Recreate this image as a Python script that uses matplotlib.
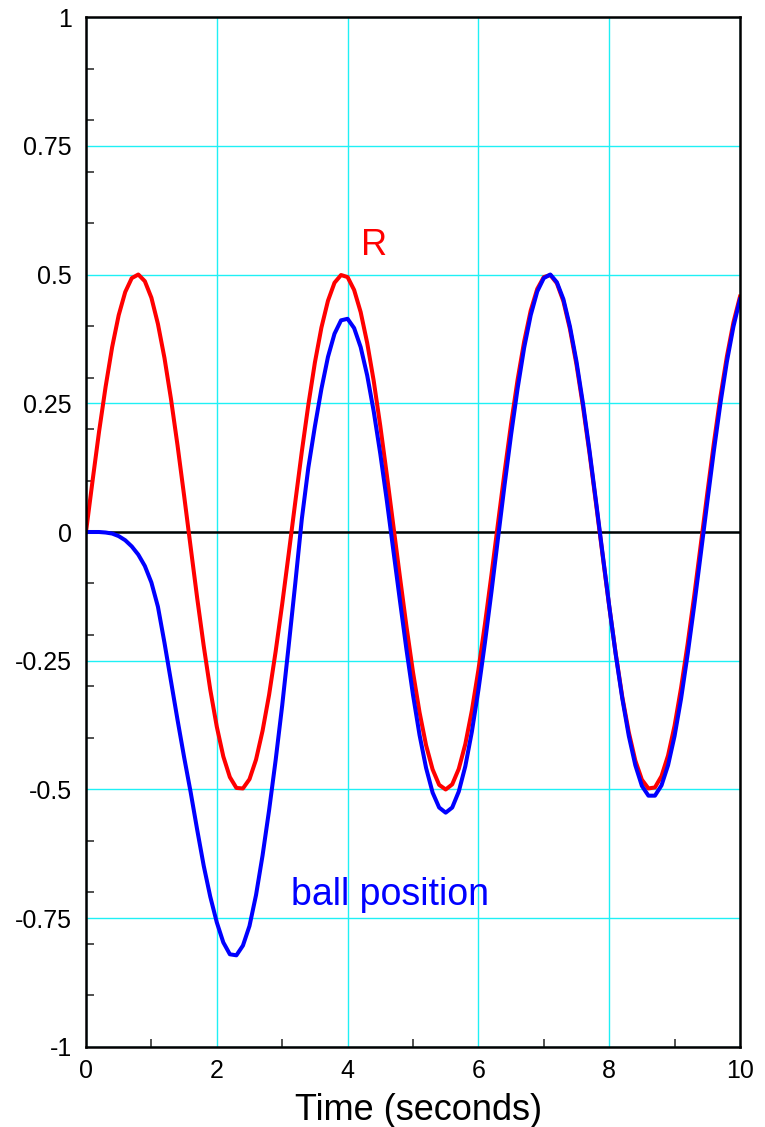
import numpy as np
import matplotlib
matplotlib.use('Agg')
import matplotlib.pyplot as plt

plt.rcParams['font.family'] = ['Liberation Sans', 'DejaVu Sans']

# time axis, 0.1 s steps
t = np.arange(101) / 10.0

# reference R
R = [0.000, 0.099, 0.195, 0.282, 0.359, 0.421, 0.466, 0.493, 0.500, 0.487,
     0.455, 0.404, 0.338, 0.258, 0.168, 0.071, -0.029, -0.128, -0.221, -0.306,
     -0.378, -0.436, -0.476, -0.497, -0.498, -0.480, -0.442, -0.386, -0.316, -0.232,
     -0.140, -0.042, 0.058, 0.156, 0.247, 0.329, 0.397, 0.449, 0.484, 0.499,
     0.495, 0.470, 0.427, 0.367, 0.293, 0.206, 0.111, 0.012, -0.087, -0.183,
     -0.272, -0.350, -0.414, -0.461, -0.491, -0.500, -0.490, -0.460, -0.412, -0.347,
     -0.268, -0.179, -0.083, 0.017, 0.116, 0.210, 0.296, 0.370, 0.430, 0.472,
     0.495, 0.499, 0.483, 0.448, 0.394, 0.325, 0.243, 0.152, 0.054, -0.046,
     -0.144, -0.236, -0.320, -0.389, -0.444, -0.481, -0.498, -0.496, -0.474, -0.434,
     -0.376, -0.302, -0.217, -0.124, -0.025, 0.075, 0.172, 0.262, 0.341, 0.407,
     0.457]

# ball position (blue curve)
ball = [0.000, 0.000, 0.000, -0.001, -0.003, -0.008, -0.016, -0.028, -0.044, -0.066,
        -0.098, -0.145, -0.215, -0.290, -0.365, -0.437, -0.505, -0.578, -0.648, -0.708,
        -0.758, -0.797, -0.820, -0.822, -0.803, -0.765, -0.705, -0.628, -0.540, -0.443,
        -0.337, -0.220, -0.100, 0.025, 0.125, 0.205, 0.278, 0.340, 0.385, 0.411,
        0.414, 0.396, 0.359, 0.304, 0.234, 0.152, 0.061, -0.036, -0.133, -0.228,
        -0.316, -0.394, -0.458, -0.506, -0.535, -0.545, -0.535, -0.504, -0.455, -0.388,
        -0.307, -0.215, -0.116, -0.012, 0.091, 0.189, 0.279, 0.358, 0.421, 0.467,
        0.493, 0.500, 0.485, 0.452, 0.399, 0.331, 0.249, 0.157, 0.058, -0.043,
        -0.143, -0.238, -0.323, -0.396, -0.453, -0.493, -0.512, -0.512, -0.492, -0.453,
        -0.396, -0.323, -0.237, -0.143, -0.043, 0.058, 0.157, 0.249, 0.331, 0.399,
        0.452]

xticks = [0, 2, 4, 6, 8, 10]
yticks = [-1, -0.75, -0.5, -0.25, 0, 0.25, 0.5, 0.75, 1]
ylabels = ['-1', '-0.75', '-0.5', '-0.25', '0', '0.25', '0.5', '0.75', '1']

fig = plt.figure(figsize=(7.65, 11.27), dpi=100)
ax = fig.add_axes([0.1124, 0.0710, 0.8549, 0.9139])
ax.set_axisbelow(True)

# grid + zero line
ax.grid(True, which='major', color='#1ff0f5', lw=1.0)
ax.axhline(0, color='black', lw=1.8, zorder=2)

ax.plot(t, R, color='#ff0000', lw=2.9, solid_joinstyle='round', zorder=3)
ax.plot(t, ball, color='#0000ff', lw=2.9, solid_joinstyle='round', zorder=4)

ax.text(4.20, 0.538, 'R', color='#ff0000', fontsize=26, ha='left', va='baseline')
ax.text(3.13, -0.724, 'ball position', color='#0000ff', fontsize=27,
        ha='left', va='baseline')

ax.set_xlim(0, 10)
ax.set_ylim(-1, 1)
ax.set_xticks(xticks)
ax.set_xticklabels([str(x) for x in xticks])
ax.set_yticks(yticks)
ax.set_yticklabels(ylabels)
ax.set_xticks(np.arange(0, 11, 1), minor=True)
ax.set_yticks(np.arange(-10, 11) / 10.0, minor=True)
ax.tick_params(which='major', length=0, labelsize=18)
ax.tick_params(axis='x', which='major', pad=9)
ax.tick_params(axis='y', which='major', pad=10)
ax.tick_params(which='minor', direction='in', length=6, width=1.1, color='#222222')
ax.set_xlabel('Time (seconds)', fontsize=26)
ax.xaxis.set_label_coords(0.509, -0.045)

for s in ax.spines.values():
    s.set_linewidth(1.8)
    s.set_zorder(5)

fig.savefig('out.png', dpi=100)
